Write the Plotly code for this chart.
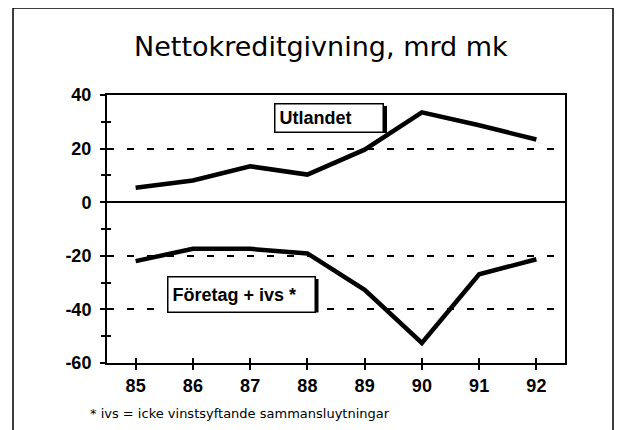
import plotly.graph_objects as go

years = [85, 86, 87, 88, 89, 90, 91, 92]
utlandet = [5.4, 8.1, 13.4, 10.3, 19.6, 33.5, 28.7, 23.4]
foretag = [-22.0, -17.4, -17.4, -19.1, -32.7, -52.5, -26.9, -21.3]
y_ticks = [-60, -40, -20, 0, 20, 40]

OFF = 8  # page body margin of the browser
W, H = 622 - OFF, 430 - OFF
L, R, T, B = 107 - OFF, 565 - OFF, 95 - OFF, 363 - OFF  # plot area in figure pixels


def px(x):
    # x given in screenshot pixels
    return (x - OFF - L) / (R - L)


def py(y):
    return (B - (y - OFF)) / (B - T)


fig = go.Figure()
fig.add_trace(go.Scatter(x=years, y=utlandet, mode="lines",
                         line=dict(color="black", width=4.5), showlegend=False))
fig.add_trace(go.Scatter(x=years, y=foretag, mode="lines",
                         line=dict(color="black", width=4.5), showlegend=False))
# dummy trace for overlay axes (inside ticks -> crossing ticks)
fig.add_trace(go.Scatter(x=[None], y=[None], xaxis="x2", yaxis="y2",
                         showlegend=False, hoverinfo="skip"))

tickfont = dict(family="Liberation Sans, Arial", size=18, color="black", weight="bold")

fig.update_layout(
    width=W, height=H,
    margin=dict(l=L, r=W - R, t=T, b=H - B, autoexpand=False),
    paper_bgcolor="white", plot_bgcolor="white",
    xaxis=dict(range=[84.5, 92.5], tickvals=years, ticktext=[str(y) for y in years],
               ticks="outside", ticklen=5, tickwidth=1.5, tickcolor="black",
               showline=True, mirror=True, linecolor="black", linewidth=2,
               showgrid=False, zeroline=False, tickfont=tickfont),
    yaxis=dict(range=[-60, 40], tickvals=y_ticks, ticktext=[str(v) for v in y_ticks],
               ticks="outside", ticklen=5, tickwidth=1.5, tickcolor="black",
               ticklabelstandoff=5,
               minor=dict(dtick=10, ticks="outside", ticklen=4, tickwidth=1.5,
                          tickcolor="black", showgrid=False),
               showline=True, mirror=True, linecolor="black", linewidth=2,
               showgrid=True, gridcolor="black", gridwidth=1.5, griddash="7px,13px",
               zeroline=True, zerolinecolor="black", zerolinewidth=1.5,
               tickfont=tickfont),
    xaxis2=dict(range=[84.5, 92.5], tickvals=years, overlaying="x", anchor="y2",
                side="bottom", ticks="inside", ticklen=5, tickwidth=1.5,
                tickcolor="black", showticklabels=False, showgrid=False,
                zeroline=False, showline=False),
    yaxis2=dict(range=[-60, 40], tickvals=y_ticks, overlaying="y", anchor="x2",
                side="left", ticks="inside", ticklen=5, tickwidth=1.5,
                tickcolor="black",
                minor=dict(dtick=10, ticks="inside", ticklen=4, tickwidth=1.5,
                           tickcolor="black", showgrid=False),
                showticklabels=False, showgrid=False, zeroline=False, showline=False),
    showlegend=False,
)

shapes = [
    # outer frame
    dict(type="rect", xref="paper", yref="paper",
         x0=px(13), x1=px(613), y0=py(445), y1=py(8),
         line=dict(color="black", width=1.5), fillcolor="rgba(0,0,0,0)", layer="below"),
    # shadows of label boxes
    dict(type="rect", xref="paper", yref="paper",
         x0=px(275), x1=px(387), y0=py(133), y1=py(106),
         line=dict(width=0), fillcolor="black", layer="above"),
    dict(type="rect", xref="paper", yref="paper",
         x0=px(168), x1=px(318.5), y0=py(312.5), y1=py(279),
         line=dict(width=0), fillcolor="black", layer="above"),
]
fig.update_layout(shapes=shapes)

annots = [
    dict(text="Nettokreditgivning, mrd mk", xref="paper", yref="paper",
         x=px(321), y=py(46), xanchor="center", yanchor="middle", showarrow=False,
         font=dict(family="DejaVu Sans", size=27, color="black")),
    dict(text="* ivs = icke vinstsyftande sammansluytningar", xref="paper", yref="paper",
         x=px(88), y=py(413), xanchor="left", yanchor="middle", showarrow=False,
         font=dict(family="DejaVu Sans", size=13, color="black")),
    dict(text="<b>Utlandet</b>", xref="paper", yref="paper",
         x=px(329), y=py(117.5), xanchor="center", yanchor="middle", showarrow=False,
         width=99, height=19, align="left", borderpad=4, borderwidth=1.5,
         bordercolor="black", bgcolor="white",
         font=dict(family="Liberation Sans, Arial", size=18, color="black")),
    dict(text="<b>Företag + ivs *</b>", xref="paper", yref="paper",
         x=px(241.3), y=py(294), xanchor="center", yanchor="middle", showarrow=False,
         width=138, height=26, align="left", borderpad=4, borderwidth=1.5,
         bordercolor="black", bgcolor="white",
         font=dict(family="Liberation Sans, Arial", size=18, color="black")),
]
fig.update_layout(annotations=annots)

fig.write_html("out.html")
